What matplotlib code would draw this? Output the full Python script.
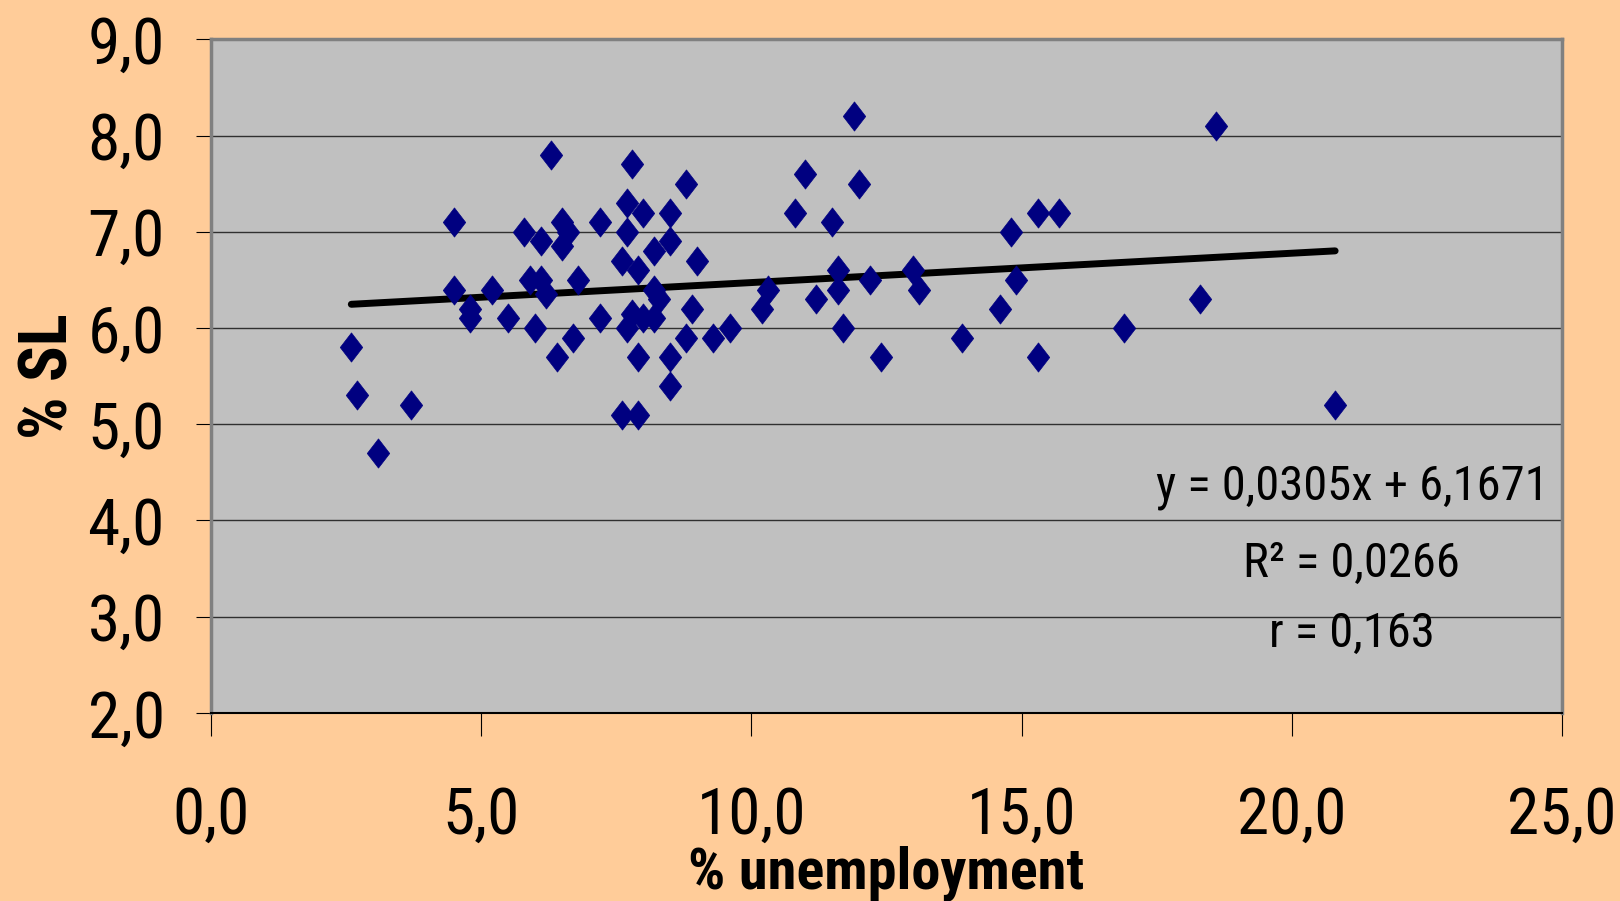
import matplotlib
matplotlib.use("Agg")
import matplotlib.pyplot as plt
from matplotlib import font_manager
from matplotlib.path import Path
from matplotlib.ticker import FuncFormatter, MultipleLocator
import numpy as np

# unemployment (%) vs SL (%)
unemployment = [2.6, 2.7, 3.1, 3.7, 4.5, 4.5, 4.8, 4.8, 5.2, 5.5,
                5.8, 5.9, 6.0, 6.1, 6.1, 6.2, 6.3, 6.4, 6.5, 6.6,
                6.5, 6.7, 6.8, 7.2, 7.2, 7.6, 7.6, 7.7, 7.7, 7.7,
                7.8, 7.8, 7.9, 7.9, 7.9, 8.0, 8.0, 8.2, 8.2, 8.2,
                8.3, 8.5, 8.5, 8.5, 8.5, 8.8, 8.8, 8.9, 9.0, 9.3,
                9.6, 10.2, 10.3, 10.8, 11.0, 11.2, 11.5, 11.6, 11.6, 11.7,
                11.9, 12.0, 12.2, 12.4, 13.0, 13.1, 13.9, 14.6, 14.8, 14.9,
                15.3, 15.3, 15.7, 16.9, 18.3, 18.6, 20.8]
sl = [5.8, 5.3, 4.7, 5.2, 7.1, 6.4, 6.2, 6.1, 6.4, 6.1,
      7.0, 6.5, 6.0, 6.9, 6.5, 6.35, 7.8, 5.7, 7.1, 7.0,
      6.85, 5.9, 6.5, 7.1, 6.1, 6.7, 5.1, 7.3, 7.0, 6.0,
      7.7, 6.15, 6.6, 5.7, 5.1, 7.2, 6.1, 6.8, 6.4, 6.1,
      6.3, 7.2, 6.9, 5.7, 5.4, 7.5, 5.9, 6.2, 6.7, 5.9,
      6.0, 6.2, 6.4, 7.2, 7.6, 6.3, 7.1, 6.6, 6.4, 6.0,
      8.2, 7.5, 6.5, 5.7, 6.6, 6.4, 5.9, 6.2, 7.0, 6.5,
      7.2, 5.7, 7.2, 6.0, 6.3, 8.1, 5.2]

# linear trend as printed on the chart
slope = 0.0305
intercept = 6.1671
r_squared = 0.0266
r_value = 0.163

# pick an Arial Narrow look-alike from what is installed
available = {f.name for f in font_manager.fontManager.ttflist}
narrow_choices = ['Liberation Sans Narrow', 'Arial Narrow', 'Nimbus Sans Narrow',
                  'Roboto Condensed', 'Open Sans Condensed', 'PT Sans Narrow',
                  'Archivo Narrow', 'Asap Condensed']
NARROW = next((n for n in narrow_choices if n in available), 'DejaVu Sans')
FONT = [NARROW, 'DejaVu Sans']


def comma(v, _pos=None):
    return f"{v:.1f}".replace('.', ',')


def comma4(v):
    return f"{v:.4f}".replace('.', ',')


# Excel-like diamond, a little taller than wide
diamond = Path([(0, 1), (0.77, 0), (0, -1), (-0.77, 0), (0, 1)],
               [Path.MOVETO, Path.LINETO, Path.LINETO, Path.LINETO, Path.CLOSEPOLY])

fig = plt.figure(figsize=(16.2, 9.01), dpi=100, facecolor='#FFCC99')
ax = fig.add_axes([0.1301, 0.2087, 0.8342, 0.7477])
ax.set_facecolor('#C0C0C0')

ax.set_xlim(0, 25)
ax.set_ylim(2, 9)
ax.xaxis.set_major_locator(MultipleLocator(5))
ax.yaxis.set_major_locator(MultipleLocator(1))
ax.xaxis.set_major_formatter(FuncFormatter(comma))
ax.yaxis.set_major_formatter(FuncFormatter(comma))

ax.grid(True, axis='y', color='#303030', linewidth=1.0)
ax.set_axisbelow(True)

# trend line across the data range
x_line = np.array([min(unemployment), max(unemployment)])
ax.plot(x_line, slope * x_line + intercept, color='black', linewidth=5,
        solid_capstyle='round', zorder=2)

ax.scatter(unemployment, sl, marker=diamond, s=21 ** 2, color='#000080',
           edgecolors='#000080', linewidths=0.5, zorder=3)

for side in ('top', 'right', 'left'):
    ax.spines[side].set_color('#808080')
    ax.spines[side].set_linewidth(2.5)
ax.spines['bottom'].set_color('black')
ax.spines['bottom'].set_linewidth(1.5)

ax.tick_params(axis='y', direction='out', length=11, width=0.8, pad=22,
               labelsize=47)
ax.tick_params(axis='x', direction='out', length=16.5, width=0.8, pad=35,
               labelsize=47)
for lab in ax.get_yticklabels() + ax.get_xticklabels():
    lab.set_family(FONT)

ax.set_xlabel('% unemployment', family=FONT, fontsize=42, fontweight='bold')
ax.xaxis.set_label_coords(0.5, -0.196)
ax.set_ylabel('% SL', family=FONT, fontsize=48, fontweight='bold')
ax.yaxis.set_label_coords(-0.096, 0.5)

# regression statistics
ax.text(0.8444, 0.336, f"y = {comma4(slope)}x + {comma4(intercept)}",
        transform=ax.transAxes, ha='center', va='center',
        family=FONT, fontsize=35)
ax.text(0.8444, 0.221, f"R\u00b2 = {comma4(r_squared)}",
        transform=ax.transAxes, ha='center', va='center',
        family=FONT, fontsize=35)
ax.text(0.8444, 0.118, f"r = {r_value:.3f}".replace('.', ','),
        transform=ax.transAxes, ha='center', va='center',
        family=FONT, fontsize=35)

fig.savefig('out.png', dpi=100, facecolor=fig.get_facecolor())
